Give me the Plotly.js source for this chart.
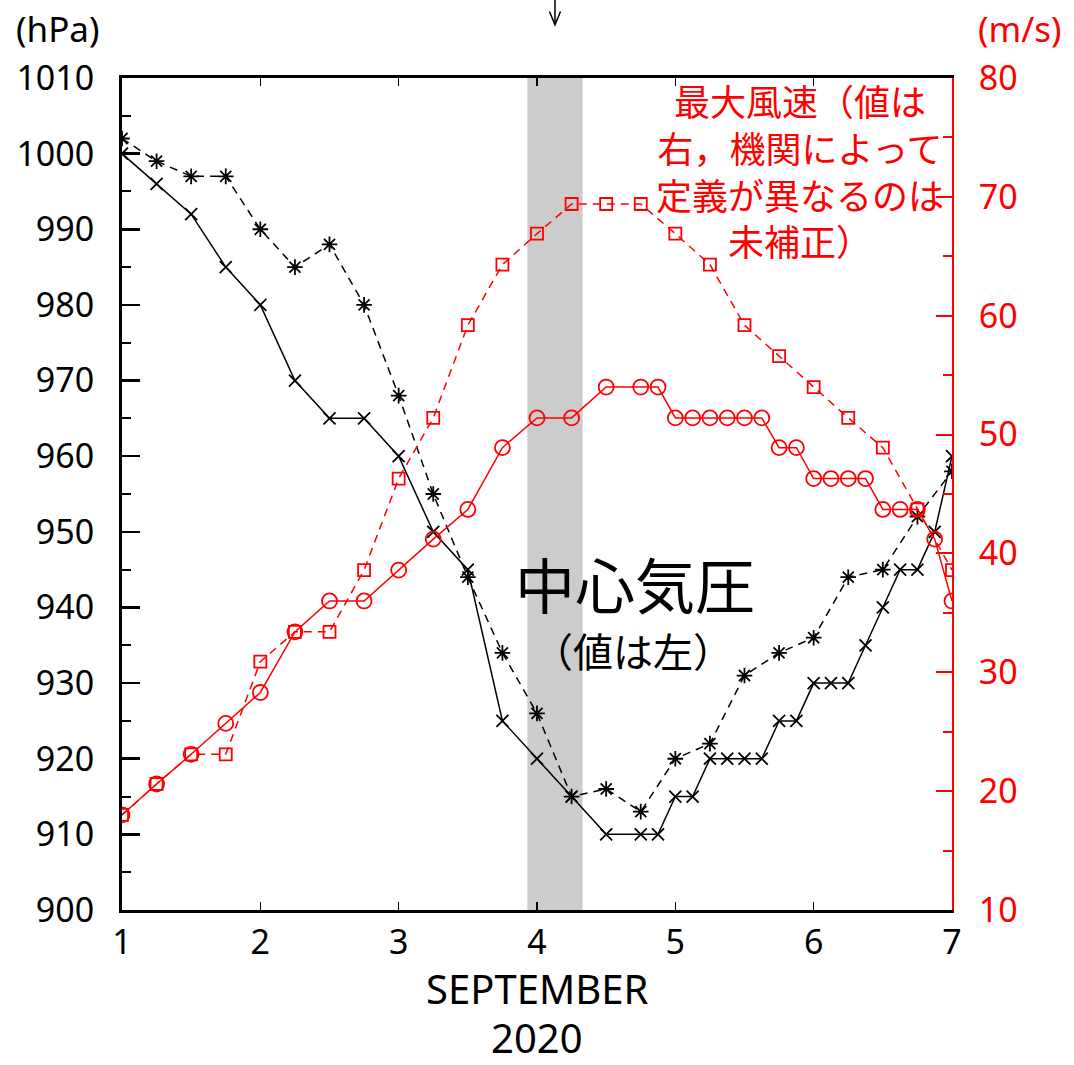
<!DOCTYPE html>
<html>
<head>
<meta charset="utf-8">
<script src="https://cdn.plot.ly/plotly-3.0.1.min.js"></script>
<style>
  html, body { margin: 0; padding: 0; background: #fff; }
  #chart { width: 1074px; height: 1065px; }
</style>
</head>
<body>
<div id="chart"></div>
<script>
// Time axis in days of September 2020 (6-hourly, then 3-hourly near the end)
const daysSixHourly = [1.0, 1.25, 1.5, 1.75, 2.0, 2.25, 2.5, 2.75, 3.0, 3.25, 3.5, 3.75,
  4.0, 4.25, 4.5, 4.75, 5.0, 5.25, 5.5, 5.75, 6.0, 6.25, 6.5, 6.75, 7.0];
const daysMixed = [1.0, 1.25, 1.5, 1.75, 2.0, 2.25, 2.5, 2.75, 3.0, 3.25, 3.5, 3.75,
  4.0, 4.25, 4.5, 4.75, 4.875, 5.0, 5.125, 5.25, 5.375, 5.5, 5.625, 5.75, 5.875,
  6.0, 6.125, 6.25, 6.375, 6.5, 6.625, 6.75, 6.875, 7.0];

// Central pressure (hPa), left axis
const pressureSolid = [1000, 996, 992, 985, 980, 970, 965, 965, 960, 950, 945, 925,
  920, 915, 910, 910, 910, 915, 915, 920, 920, 920, 920, 925, 925,
  930, 930, 930, 935, 940, 945, 945, 950, 960];
const pressureDashed = [1002, 999, 997, 997, 990, 985, 988, 980, 968, 955, 944, 934,
  926, 915, 916, 913, 920, 922, 931, 934, 936, 944, 945, 952, 958];

// Maximum wind speed (m/s), right axis
const windSolid = [18.0, 20.6, 23.1, 25.7, 28.3, 33.4, 36.0, 36.0, 38.6, 41.2, 43.7, 48.9,
  51.4, 51.4, 54.0, 54.0, 54.0, 51.4, 51.4, 51.4, 51.4, 51.4, 51.4, 48.9, 48.9,
  46.3, 46.3, 46.3, 46.3, 43.7, 43.7, 43.7, 41.2, 36.0];
const windDashed = [18.0, 20.6, 23.1, 23.1, 30.9, 33.4, 33.4, 38.6, 46.3, 51.4, 59.2, 64.3,
  66.9, 69.4, 69.4, 69.4, 66.9, 64.3, 59.2, 56.6, 54.0, 51.4, 48.9, 43.7, 38.6];

// Axis tick values
const xTicks = [1, 2, 3, 4, 5, 6, 7];
const pressureTicks = [900, 910, 920, 930, 940, 950, 960, 970, 980, 990, 1000, 1010];
const windTicks = [10, 20, 30, 40, 50, 60, 70, 80];

const RED = '#ff0000';
const TICK_FONT = { family: 'Noto Sans, DejaVu Sans, sans-serif', size: 34, color: '#000' };
const CJK = 'Noto Sans CJK JP, Noto Sans, sans-serif';

const traces = [
  {
    x: daysSixHourly, y: windDashed, yaxis: 'y2', type: 'scatter', mode: 'lines+markers',
    line: { color: RED, width: 1.5, dash: '8px,6px' },
    marker: { symbol: 'square-open', size: 12, color: RED, line: { width: 1.8, color: RED } },
    hoverinfo: 'skip'
  },
  {
    x: daysMixed, y: windSolid, yaxis: 'y2', type: 'scatter', mode: 'lines+markers',
    line: { color: RED, width: 1.5 },
    marker: { symbol: 'circle-open', size: 15, color: RED, line: { width: 1.8, color: RED } },
    hoverinfo: 'skip'
  },
  {
    x: daysSixHourly, y: pressureDashed, yaxis: 'y', type: 'scatter', mode: 'lines+markers',
    line: { color: '#000', width: 1.5, dash: '8px,6px' },
    marker: { symbol: 'asterisk-open', size: 13, color: '#000', line: { width: 1.8, color: '#000' } },
    hoverinfo: 'skip'
  },
  {
    x: daysMixed, y: pressureSolid, yaxis: 'y', type: 'scatter', mode: 'lines+markers',
    line: { color: '#000', width: 1.5 },
    marker: { symbol: 'x-thin-open', size: 12, color: '#000', line: { width: 1.8, color: '#000' } },
    hoverinfo: 'skip'
  }
];

const arrowX = 4.13;

// Paper-positioned text helper with explicit centre anchoring
function label(x, y, text, font) {
  return { xref: 'paper', yref: 'paper', x: x, y: y, text: text, showarrow: false,
    xanchor: 'center', yanchor: 'middle', align: 'center', font: font };
}

const layout = {
  width: 1074, height: 1065,
  margin: { l: 122, r: 122, t: 78, b: 155 },
  paper_bgcolor: '#fff', plot_bgcolor: '#fff',
  showlegend: false,
  xaxis: {
    range: [1, 7], tickvals: xTicks, ticktext: xTicks.map(String),
    ticks: 'inside', ticklen: 8, tickwidth: 1.5, tickcolor: '#000',
    showline: true, linewidth: 3, linecolor: '#000', mirror: 'ticks',
    showgrid: false, zeroline: false, tickfont: TICK_FONT, ticklabelstandoff: 0
  },
  yaxis: {
    range: [900, 1010], tickvals: pressureTicks,
    ticks: 'inside', ticklen: 18, tickwidth: 2.5, tickcolor: '#000',
    minor: { dtick: 5, ticks: 'inside', ticklen: 9, tickwidth: 2, tickcolor: '#000' },
    showline: true, linewidth: 3, linecolor: '#000',
    showgrid: false, zeroline: false, tickfont: TICK_FONT, ticklabelstandoff: 18
  },
  yaxis2: {
    range: [10, 80], tickvals: windTicks, overlaying: 'y', side: 'right',
    ticks: 'inside', ticklen: 16, tickwidth: 2, tickcolor: RED,
    minor: { dtick: 5, ticks: 'inside', ticklen: 9, tickwidth: 2, tickcolor: RED },
    showline: true, linewidth: 2, linecolor: RED,
    showgrid: false, zeroline: false,
    tickfont: Object.assign({}, TICK_FONT, { color: RED }), ticklabelstandoff: 18
  },
  shapes: [
    { type: 'rect', xref: 'x', yref: 'paper', x0: 3.93, x1: 4.33, y0: 0, y1: 1,
      fillcolor: '#cccccc', line: { width: 0 }, layer: 'below' },
    { type: 'line', xref: 'x', yref: 'paper', x0: arrowX, x1: arrowX, y0: 1.094, y1: 1.066,
      line: { color: '#000', width: 1.5 } },
    { type: 'path', xref: 'x', yref: 'paper',
      path: 'M ' + (arrowX - 0.04) + ' 1.080 L ' + arrowX + ' 1.064 L ' + (arrowX + 0.04) + ' 1.080',
      line: { color: '#000', width: 1.5 } }
  ],
  annotations: [
    label(-0.078, 1.060, '(hPa)', { family: TICK_FONT.family, size: 35, color: '#000' }),
    label(1.082, 1.060, '(m/s)', { family: TICK_FONT.family, size: 35, color: RED }),
    label(0.5, -0.094, 'SEPTEMBER', { family: TICK_FONT.family, size: 40, color: '#000' }),
    label(0.5, -0.153, '2020', { family: TICK_FONT.family, size: 40, color: '#000' }),
    label(0.817, 0.889, '最大風速（値は<br>右，機関によって<br>定義が異なるのは<br>未補正）',
      { family: CJK, size: 36, color: RED }),
    label(0.618, 0.394, '中心気圧', { family: CJK, size: 60, color: '#000' }),
    label(0.616, 0.3125, '（値は左）', { family: CJK, size: 40, color: '#000' })
  ]
};

Plotly.newPlot('chart', traces, layout, { staticPlot: true, displayModeBar: false });
</script>
</body>
</html>
